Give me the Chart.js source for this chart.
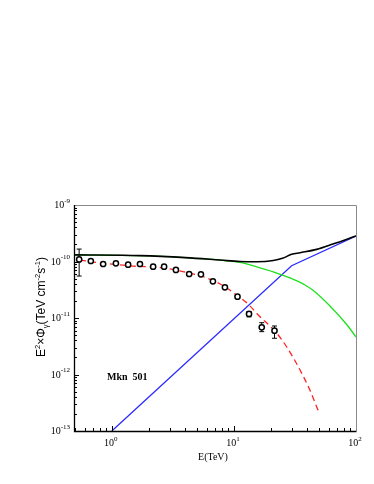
<!DOCTYPE html>
<html>
<head>
<meta charset="utf-8">
<script src="https://cdn.jsdelivr.net/npm/chart.js@4.4.1/dist/chart.umd.min.js"></script>
<style>
html,body{margin:0;padding:0;background:#fff;}
canvas{display:block;}
</style>
</head>
<body>
<canvas id="c" width="374" height="484"></canvas>
<script>
// ---- Data ----
const obsEnergy = [0.54, 0.673, 0.849, 1.08, 1.36, 1.70, 2.18, 2.68, 3.35, 4.30, 5.37, 6.73, 8.44, 10.7, 13.3, 16.9, 21.5];
const obsFlux   = [1.09e-10, 1.02e-10, 9.04e-11, 9.29e-11, 8.77e-11, 9.04e-11, 8.09e-11, 8.09e-11, 7.08e-11, 6.01e-11, 5.93e-11, 4.46e-11, 3.49e-11, 2.38e-11, 1.18e-11, 6.85e-12, 5.96e-12];
const obsLow    = [5.53e-11, 9.8e-11, 8.7e-11, 8.95e-11, 8.45e-11, 8.7e-11, 7.8e-11, 7.8e-11, 6.8e-11, 5.75e-11, 5.65e-11, 4.25e-11, 3.3e-11, 2.25e-11, 1.05e-11, 5.73e-12, 4.38e-12];
const obsHigh   = [1.66e-10, 1.06e-10, 9.4e-11, 9.65e-11, 9.1e-11, 9.4e-11, 8.4e-11, 8.4e-11, 7.35e-11, 6.25e-11, 6.2e-11, 4.65e-11, 3.65e-11, 2.5e-11, 1.30e-11, 8.26e-12, 7.22e-12];

const totalEnergy = [0.5, 1.7, 4, 7.7, 11.2, 15.4, 21, 25, 29.7, 34.8, 47.6, 64.8, 100];
const totalFlux   = [1.31e-10, 1.27e-10, 1.17e-10, 1.06e-10, 1.0e-10, 9.9e-11, 1.04e-10, 1.14e-10, 1.34e-10, 1.43e-10, 1.64e-10, 2.04e-10, 2.83e-10];

const greenEnergy = [0.5, 1.7, 4, 7.7, 11.2, 15.4, 21, 28.8, 38.2, 44.7, 61.2, 83.9, 100];
const greenFlux   = [1.31e-10, 1.27e-10, 1.17e-10, 1.06e-10, 9.64e-11, 8.05e-11, 6.57e-11, 5.11e-11, 3.84e-11, 3.07e-11, 1.63e-11, 7.67e-12, 4.61e-12];

const blueEnergy = [1.0, 29.7, 100];
const blueFlux   = [1e-13, 8.43e-11, 2.83e-10];

const redEnergy = [0.55, 0.75, 1.0, 1.5, 2.5, 4.1, 6.0, 8.4, 9.9, 13.3, 15.4, 22.4, 27, 34.8, 41.9, 50];
const redFlux   = [1.06e-10, 9.6e-11, 9.0e-11, 8.3e-11, 7.8e-11, 6.4e-11, 5.1e-11, 3.6e-11, 2.8e-11, 1.7e-11, 1.2e-11, 5.4e-12, 3.1e-12, 1.2e-12, 5.3e-13, 2.06e-13];

const xTickExponents = [0, 1, 2];
const yTickExponents = [-13, -12, -11, -10, -9];
const xAxisTitle = 'E(TeV)';
const sourceLabel = 'Mkn  501';

const pts = (xs, ys) => xs.map((x, i) => ({x: x, y: ys[i]}));

const decor = {
  id: 'decor',
  beforeDatasetsDraw(chart) {
    const ctx = chart.ctx, xs = chart.scales.x, ys = chart.scales.y;
    ctx.save();
    ctx.strokeStyle = '#000';
    ctx.lineWidth = 1;
    for (let i = 0; i < obsEnergy.length; i++) {
      const x = xs.getPixelForValue(obsEnergy[i]);
      const y1 = ys.getPixelForValue(obsLow[i]);
      const y2 = ys.getPixelForValue(obsHigh[i]);
      ctx.beginPath();
      ctx.moveTo(x, y1); ctx.lineTo(x, y2);
      ctx.moveTo(x - 2.5, y1); ctx.lineTo(x + 2.5, y1);
      ctx.moveTo(x - 2.5, y2); ctx.lineTo(x + 2.5, y2);
      ctx.stroke();
    }
    ctx.restore();
  },
  afterDraw(chart) {
    const ctx = chart.ctx, xs = chart.scales.x, ys = chart.scales.y;
    const a = chart.chartArea;
    ctx.save();
    // frame
    ctx.lineWidth = 1;
    ctx.strokeStyle = '#8a8a8a';
    ctx.beginPath();
    ctx.moveTo(a.left, a.top + 0.5); ctx.lineTo(a.right + 0.5, a.top + 0.5);
    ctx.lineTo(a.right + 0.5, a.bottom);
    ctx.stroke();
    ctx.strokeStyle = '#000';
    ctx.lineWidth = 1.3;
    ctx.beginPath();
    ctx.moveTo(a.left + 0.5, a.top); ctx.lineTo(a.left + 0.5, a.bottom + 0.5);
    ctx.lineTo(a.right + 0.5, a.bottom + 0.5);
    ctx.stroke();

    // ticks
    ctx.lineWidth = 1;
    ctx.beginPath();
    for (let e = yTickExponents[0]; e < yTickExponents[yTickExponents.length - 1]; e++) {
      for (let m = 1; m <= 9; m++) {
        const y = Math.round(ys.getPixelForValue(m * Math.pow(10, e))) + 0.5;
        const len = m === 1 ? 5 : 3;
        ctx.moveTo(a.left, y); ctx.lineTo(a.left + len, y);
      }
    }
    for (let e = -1; e < 2; e++) {
      for (let m = 1; m <= 9; m++) {
        const v = m * Math.pow(10, e);
        if (v < xs.min || v > xs.max) continue;
        const x = Math.round(xs.getPixelForValue(v)) + 0.5;
        const len = m === 1 ? 5 : 3;
        ctx.moveTo(x, a.bottom); ctx.lineTo(x, a.bottom - len);
      }
    }
    ctx.stroke();

    // tick labels
    ctx.fillStyle = '#000';
    const baseFont = '10px "Liberation Serif"';
    const expFont = '7px "Liberation Serif"';
    yTickExponents.forEach(e => {
      const y = ys.getPixelForValue(Math.pow(10, e));
      ctx.font = expFont;
      const ew = ctx.measureText(String(e)).width;
      ctx.font = baseFont;
      const bw = ctx.measureText('10').width;
      const right = 70;
      ctx.textBaseline = 'middle';
      ctx.textAlign = 'left';
      ctx.fillText('10', right - ew - bw, y + 0.5);
      ctx.font = expFont;
      ctx.fillText(String(e), right - ew, y - 4);
    });
    xTickExponents.forEach(e => {
      const x = xs.getPixelForValue(Math.pow(10, e));
      ctx.font = expFont;
      const ew = ctx.measureText(String(e)).width;
      ctx.font = baseFont;
      const bw = ctx.measureText('10').width;
      const left = x - (bw + ew) / 2 - 1;
      ctx.textBaseline = 'alphabetic';
      ctx.textAlign = 'left';
      ctx.fillText('10', left, 446);
      ctx.font = expFont;
      ctx.fillText(String(e), left + bw, 441);
    });

    // x title
    ctx.font = '10px "Liberation Serif"';
    ctx.textAlign = 'center';
    ctx.textBaseline = 'alphabetic';
    ctx.fillText(xAxisTitle, (a.left + a.right) / 2 - 2, 460);

    // y title (rotated)
    const parts = [
      ['E', 0, 12], ['2', -5, 7.5], ['\u00d7\u03a6', 0, 12], ['\u03b3', 3, 7.5],
      ['(TeV cm', 0, 12], ['-2', -5, 7.5], ['s', 0, 12], ['-1', -5, 7.5], [')', 0, 12]
    ];
    let total = 0;
    parts.forEach(p => { ctx.font = p[2] + 'px "Liberation Sans"'; total += ctx.measureText(p[0]).width; });
    ctx.translate(45, 307);
    ctx.rotate(-Math.PI / 2);
    ctx.textAlign = 'left';
    let cx = -total / 2;
    parts.forEach(p => {
      ctx.font = p[2] + 'px "Liberation Sans"';
      ctx.fillText(p[0], cx, p[1]);
      cx += ctx.measureText(p[0]).width;
    });
    ctx.setTransform(1, 0, 0, 1, 0, 0);

    // source label
    ctx.font = 'bold 10px "Liberation Serif"';
    ctx.textAlign = 'left';
    ctx.fillText(sourceLabel, 107, 380);
    ctx.restore();
  }
};

new Chart(document.getElementById('c'), {
  type: 'line',
  data: {
    datasets: [
      { label: 'data', data: pts(obsEnergy, obsFlux), showLine: false,
        pointRadius: 2.6, pointBorderWidth: 1.5, pointBackgroundColor: '#fff', pointBorderColor: '#000' },
      { label: 'model', data: pts(redEnergy, redFlux), borderColor: '#ff2222', borderWidth: 1.3,
        borderDash: [6, 4], pointRadius: 0, cubicInterpolationMode: 'monotone', fill: false },
      { label: 'total', data: pts(totalEnergy, totalFlux), borderColor: '#000', borderWidth: 1.6,
        pointRadius: 0, cubicInterpolationMode: 'monotone', fill: false },
      { label: 'green', data: pts(greenEnergy, greenFlux), borderColor: '#1fe01f', borderWidth: 1.3,
        pointRadius: 0, cubicInterpolationMode: 'monotone', fill: false },
      { label: 'blue', data: pts(blueEnergy, blueFlux), borderColor: '#2a2aff', borderWidth: 1.3,
        pointRadius: 0, tension: 0, fill: false }
    ]
  },
  options: {
    responsive: false,
    animation: false,
    devicePixelRatio: 1,
    layout: { padding: { left: 74, right: 18, top: 205, bottom: 53 } },
    plugins: { legend: { display: false }, tooltip: { enabled: false } },
    scales: {
      x: { type: 'logarithmic', min: 0.49, max: 100, display: false },
      y: { type: 'logarithmic', min: 1e-13, max: 1e-9, display: false }
    }
  },
  plugins: [decor]
});
</script>
</body>
</html>
